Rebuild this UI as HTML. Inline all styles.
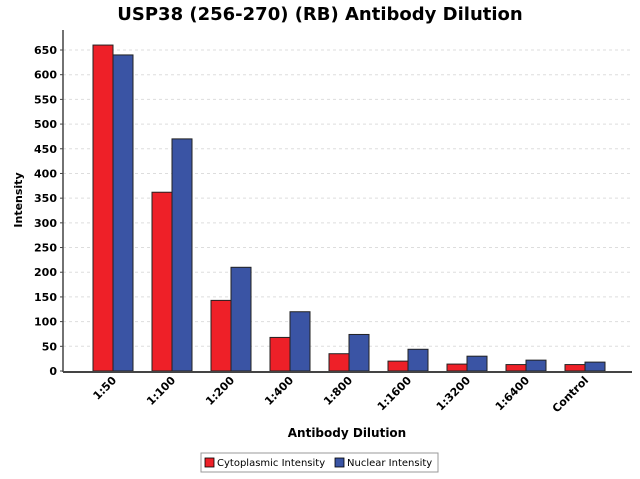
<!DOCTYPE html>
<html><head><meta charset="utf-8"><style>
body{margin:0;background:#fff;font-family:"DejaVu Sans","Liberation Sans",sans-serif}
</style></head><body>
<svg width="640" height="475" xmlns="http://www.w3.org/2000/svg">
<text x="320" y="20" text-anchor="middle" font-size="18" font-weight="bold">USP38 (256-270) (RB) Antibody Dilution</text>
<g id="grid"></g>
<g id="bars"></g>
<g id="axes"></g>
<text transform="translate(22,200) rotate(-90)" text-anchor="middle" font-size="11" font-weight="bold">Intensity</text>
<text x="347" y="437" text-anchor="middle" font-size="12" font-weight="bold">Antibody Dilution</text>
<g>
<rect x="201" y="453" width="237" height="19" fill="#fff" stroke="#999"/>
<rect x="205" y="458" width="9" height="9" fill="#ee2028" stroke="#000" stroke-width="0.8"/>
<text x="217" y="466" font-size="10">Cytoplasmic Intensity</text>
<rect x="335" y="458" width="9" height="9" fill="#3a54a4" stroke="#000" stroke-width="0.8"/>
<text x="347" y="466" font-size="10">Nuclear Intensity</text>
</g>
</svg>
<script>
const categories=["1:50","1:100","1:200","1:400","1:800","1:1600","1:3200","1:6400","Control"];
const cytoplasmic=[660,362,143,68,35,20,14,13,13];
const nuclear=[640,470,210,120,74,44,30,22,18];
const yTicks=[0,50,100,150,200,250,300,350,400,450,500,550,600,650];
const NS="http://www.w3.org/2000/svg";
const x0=63,x1=632,yBase=371,yTop=30;
function y(v){return yBase-v*(321/650);}
function xc(i){return 113+i*59;}
function mk(t,a,p){const e=document.createElementNS(NS,t);for(const k in a)e.setAttribute(k,a[k]);p.appendChild(e);return e;}
const grid=document.getElementById('grid'),bars=document.getElementById('bars'),axes=document.getElementById('axes');
yTicks.forEach(v=>{
 if(v>0){const g=mk('line',{x1:x0,x2:x1,y1:y(v),y2:y(v),stroke:'#ddd','stroke-dasharray':'3,3'},grid);
 
 }
 const t=mk('text',{x:x0-6,y:y(v)+4,'text-anchor':'end','font-size':'11','font-weight':'bold'},axes);
 t.textContent=v;
 
 
 mk('line',{x1:x0-3,x2:x0,y1:y(v),y2:y(v),stroke:'#444'},axes);
});
categories.forEach((c,i)=>{
 const cx=xc(i);
 const r=mk('rect',{x:cx-20,y:y(cytoplasmic[i]),width:20,height:yBase-y(cytoplasmic[i]),fill:'#ee2028',stroke:'#222','stroke-width':1},bars);
 
 
 const b=mk('rect',{x:cx,y:y(nuclear[i]),width:20,height:yBase-y(nuclear[i]),fill:'#3a54a4',stroke:'#222','stroke-width':1},bars);
 
 
 const t=mk('text',{transform:`translate(${cx+4},${yBase+10}) rotate(-45)`,'text-anchor':'end','font-size':'11','font-weight':'bold'},axes);
 t.textContent=c;
 
 
});
mk('line',{x1:x0,x2:x0,y1:yTop,y2:yBase+1,stroke:'#444','stroke-width':1.5},axes);
mk('line',{x1:x0,x2:x1,y1:yBase+1,y2:yBase+1,stroke:'#444','stroke-width':2},axes);
</script>
</body></html>
